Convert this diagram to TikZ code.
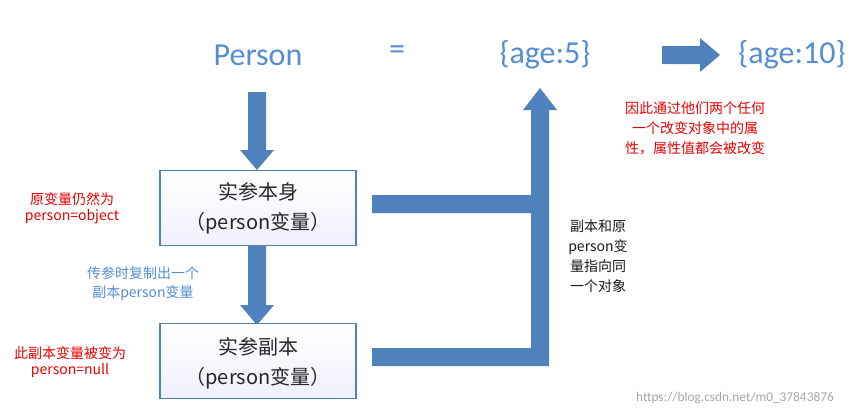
\documentclass[tikz,border=0pt]{standalone}
\usepackage{fontspec}
\setmainfont{Carlito}
\newfontfamily\cjk{Noto Sans CJK SC}
\begin{document}
\begin{tikzpicture}[x=0.75pt,y=-0.75pt]
\definecolor{ac}{RGB}{79,129,189}
\definecolor{bt}{RGB}{84,141,212}
\definecolor{rt}{RGB}{230,0,0}
\tikzset{
  arr/.style={fill=ac, draw=none},
  big/.style={text=bt, font=\fontsize{24}{26}\selectfont},
  boxst/.style={draw=ac, line width=0.8pt, top color=white, bottom color=blue!6, minimum width=147pt, minimum height=56pt, inner sep=0pt},
  boxtxt/.style={font=\cjk\fontsize{15}{17}\selectfont, text=black!85},
  red/.style={text=rt, font=\cjk\fontsize{10.5}{12}\selectfont, align=center},
  bluet/.style={text=bt, font=\cjk\fontsize{10.5}{12}\selectfont, align=center},
  dark/.style={text=black!90, font=\cjk\fontsize{10.5}{12}\selectfont, align=center}}
\useasboundingbox (0,0) rectangle (867,418);
\node[big] (p) at (258,55) {Person};
\node[big] (eq) at (397,53) {=};
\node[big] (a5) at (545,55) {\{age:5\}};
\node[big] (a10) at (792,55) {\{age:10\}};
\fill[arr] (662,46) -- (700,46) -- (700,38) -- (720,55) -- (700,72) -- (700,64) -- (662,64) -- cycle;
\fill[arr] (248,92) -- (266,92) -- (266,150) -- (274,150) -- (257,170) -- (240,150) -- (248,150) -- cycle;
\fill[arr] (248,245) -- (266,245) -- (266,305) -- (274,305) -- (257,325) -- (240,305) -- (248,305) -- cycle;
\node[boxst] (b1) at (258,208) {};
\node[boxtxt] at (258,192) {实参本身};
\node[boxtxt] at (258,223) {（person变量）};
\node[boxst] (b2) at (258,361) {};
\node[boxtxt] at (258,347) {实参副本};
\node[boxtxt] at (258,378) {（person变量）};
\fill[arr] (372,195) -- (531,195) -- (531,110) -- (523,110) -- (540,88) -- (557,110) -- (549,110) -- (549,366) -- (372,366) -- (372,348) -- (531,348) -- (531,213) -- (372,213) -- cycle;
\node[red] (r1) at (72,208) {原变量仍然为\\person=object};
\node[red] (r2) at (70,362) {此副本变量被变为\\person=null};
\node[bluet] (bl) at (143,284) {传参时复制出一个\\[2pt]副本person变量};
\node[dark] (d) at (598,256) {副本和原\\[3pt]person变\\[3pt]量指向同\\[3pt]一个对象};
\node[red] (r3) at (695,128) {因此通过他们两个任何\\[3pt]一个改变对象中的属\\[3pt]性，属性值都会被改变};
\node[text=black!35, font=\fontsize{10}{11}\selectfont] (w) at (735,398) {https://blog.csdn.net/m0\_37843876};
\end{tikzpicture}
\end{document}
